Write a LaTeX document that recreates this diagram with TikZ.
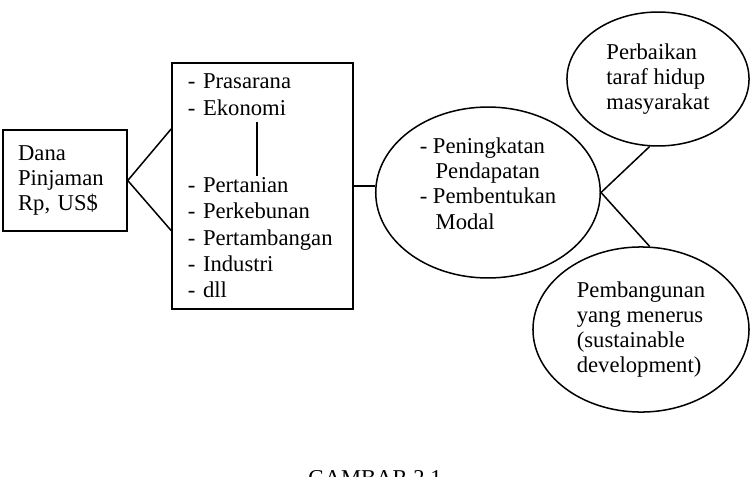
\documentclass[tikz,border=0pt]{standalone}
\usepackage{fontspec}
\setmainfont{Liberation Serif}
\usetikzlibrary{shapes.geometric}
\begin{document}
\begin{tikzpicture}[x=0.53pt,y=-0.53pt,line width=0.8pt,
		kotak/.style={shape=rectangle,draw,align=left,inner ysep=0pt},
		elips/.style={shape=ellipse,draw,align=left,inner sep=0pt},
		teks/.style={font=\fontsize{12}{13.3}\selectfont}]
		\useasboundingbox (0,0) rectangle (754,476);
		\node[kotak,teks,inner xsep=8pt,text width=49.7pt,minimum height=53.5pt] (dana) at (65,180.5) {Dana\\Pinjaman\\Rp, US\$};
		\node[kotak,font=\fontsize{12}{14}\selectfont,inner xsep=8.5pt,text width=79pt,minimum height=130.4pt] (sektor) at (262.5,186) {- Prasarana\\- Ekonomi\\[26.8pt]- Pertanian\\- Perkebunan\\- Pertambangan\\- Industri\\- dll};
		\node[elips,teks,minimum width=119pt,minimum height=90.6pt] (hasil) at (488,192.5) {- Peningkatan\\\hspace*{0.7em}Pendapatan\\- Pembentukan\\\hspace*{0.7em}Modal\\[-3.8pt]};
		\node[elips,teks,minimum width=96.5pt,minimum height=71pt] (taraf) at (658,79) {Perbaikan\\taraf hidup\\masyarakat};
		\node[elips,teks,minimum width=114.5pt,minimum height=87.5pt] (lanjut) at (641,329.5) {Pembangunan\\yang menerus\\(sustainable\\development)};
		\node[teks,anchor=base] (judul) at (375,485) {GAMBAR 2.1};
		\coordinate (garisA) at (257,122);
		\coordinate (garisB) at (257,176);

		\draw (dana.east) -- (sektor.148);
		\draw (dana.east) -- (sektor.206);
		\draw (garisA) -- (garisB);
		\draw (sektor.east) -- (sektor.east -| hasil.west);
		\draw (hasil.east) -- (taraf.263);
		\draw (hasil.east) -- (lanjut.84);
		\end{tikzpicture}
\end{document}
